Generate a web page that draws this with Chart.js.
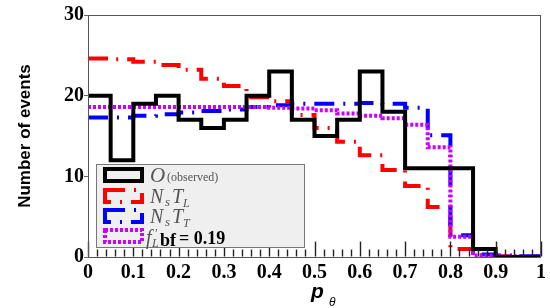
<!DOCTYPE html>
<html>
<head>
<meta charset="utf-8">
<script src="https://cdn.jsdelivr.net/npm/chart.js@4.4.0/dist/chart.umd.min.js"></script>
<style>
  html, body { margin: 0; padding: 0; background: #fff; }
  canvas { display: block; }
</style>
</head>
<body>
<canvas id="histChart" width="550" height="308"></canvas>
<script>
// bin edges of p_theta (20 bins of 0.05)
const binEdges = [0, 0.05, 0.1, 0.15, 0.2, 0.25, 0.3, 0.35, 0.4, 0.45, 0.5,
                  0.55, 0.6, 0.65, 0.7, 0.75, 0.8, 0.85, 0.9, 0.95, 1];

// O (observed)
const observed = [20, 12, 19, 20, 17, 16, 17, 20, 23, 17, 15, 17, 23, 18, 11, 11, 11, 1, 0, 0];
// Ns T_L
const nsTL = [24.6, 24.5, 24.2, 23.8, 23.2, 22.1, 21.2, 19.8, 19.3, 17.6, 16.0, 14.3, 12.6, 10.8, 8.8, 6.2, 1.0, 0.2, 0.1, 0.05];
// Ns T_T
const nsTT = [17.3, 17.3, 17.5, 17.7, 17.9, 18.1, 18.3, 18.6, 18.8, 19.0, 19.0, 19.0, 19.1, 19.0, 18.5, 15.1, 2.7, 0.3, 0.2, 0.1];
// f'_L bf = 0.19
const bestFit = [18.6, 18.6, 18.6, 18.6, 18.6, 18.6, 18.6, 18.6, 18.5, 18.4, 18.2, 17.8, 17.5, 17.2, 16.4, 13.6, 2.5, 0.2, 0.1, 0.05];

const xTicks = [0, 0.1, 0.2, 0.3, 0.4, 0.5, 0.6, 0.7, 0.8, 0.9, 1];
const yTicks = [0, 10, 20, 30];

// step histogram points: value held from left edge to the next edge
const toSteps = vals => binEdges.map((e, i) => ({ x: e, y: vals[Math.min(i, vals.length - 1)] }));

const tickFont = { family: 'Liberation Serif', weight: 'bold', size: 20 };

// inner x ticks (drawn before legend so the box covers them)
const innerTicks = {
  id: 'innerTicks',
  afterDatasetsDraw(chart) {
    const ctx = chart.ctx;
    const ca = chart.chartArea;
    ctx.save();
    ctx.setLineDash([]);
    ctx.lineWidth = 1.4;
    ctx.strokeStyle = '#222222';
    for (let k = 0; k <= 50; k++) {
      const px = Math.round(ca.left + (ca.right - ca.left) * k / 50) + 0.5;
      const len = (k % 5 === 0) ? 15 : 7;
      ctx.beginPath();
      ctx.moveTo(px, ca.bottom - 0.5);
      ctx.lineTo(px, ca.bottom - 0.5 - len);
      ctx.stroke();
    }
    ctx.restore();
  }
};

// frame, legend box and axis titles
const decorPlugin = {
  id: 'decor',
  afterDraw(chart) {
    const ctx = chart.ctx;
    const ca = chart.chartArea;
    const w = ca.right - ca.left;
    ctx.save();
    ctx.setLineDash([]);

    // frame
    ctx.strokeStyle = '#555';
    ctx.lineWidth = 1;
    ctx.strokeRect(ca.left + 0.5, ca.top + 0.5, w - 1, ca.bottom - ca.top);

    // legend box
    const bx = ca.left + 8, by = ca.bottom - 93, bw = 208, bh = 83;
    ctx.fillStyle = '#efefef';
    ctx.fillRect(bx, by, bw, bh);
    ctx.strokeStyle = '#777';
    ctx.strokeRect(bx + 0.5, by + 0.5, bw, bh);

    const items = [
      { color: '#000000', dash: [], w: 4 },
      { color: '#ff0000', dash: [20, 9, 2, 9], w: 4 },
      { color: '#0000ff', dash: [20, 9, 2, 9], w: 4 },
      { color: '#cc00ff', dash: [3, 2], w: 4 }
    ];
    const rowTop = [by + 5, by + 26, by + 46, by + 66];
    items.forEach((it, i) => {
      ctx.strokeStyle = it.color;
      ctx.lineWidth = it.w;
      ctx.setLineDash(it.dash);
      ctx.strokeRect(bx + 9, rowTop[i], 37, 12);
    });
    ctx.setLineDash([]);

    const tx = bx + 54;
    ctx.fillStyle = '#555';
    ctx.textAlign = 'left';
    ctx.textBaseline = 'alphabetic';
    // O (observed)
    ctx.font = 'italic 21px "Liberation Serif"';
    ctx.fillText('O', tx, rowTop[0] + 13);
    ctx.font = '12px "Liberation Serif"';
    ctx.fillText('(observed)', tx + 17, rowTop[0] + 12);
    // Ns T_L, Ns T_T
    ['L', 'T'].forEach((sub, j) => {
      const base = rowTop[1 + j] + 13;
      ctx.font = 'italic 20px "Liberation Serif"';
      ctx.fillText('N', tx, base);
      ctx.font = 'italic 13px "Liberation Serif"';
      ctx.fillText('s', tx + 15, base + 3);
      ctx.font = 'italic 20px "Liberation Serif"';
      ctx.fillText('T', tx + 22, base);
      ctx.font = 'italic 12px "Liberation Serif"';
      ctx.fillText(sub, tx + 33, base + 4);
    });
    // f'_L bf = 0.19
    const b4 = rowTop[3] + 14;
    ctx.font = 'italic 20px "Liberation Serif"';
    ctx.fillText('f', tx - 4, b4);
    ctx.font = '13px "Liberation Serif"';
    ctx.fillText('\u2032', tx + 5, b4 - 7);
    ctx.font = 'italic 12px "Liberation Serif"';
    ctx.fillText('L', tx + 2, b4 + 3);
    ctx.fillStyle = '#000';
    ctx.font = 'bold 18px "Liberation Serif"';
    ctx.fillText('bf', tx + 10, b4 + 2);
    ctx.fillText('= 0.19', tx + 29, b4);

    // axis titles
    ctx.fillStyle = '#000';
    ctx.save();
    ctx.translate(25, 136);
    ctx.rotate(-Math.PI / 2);
    ctx.textAlign = 'center';
    ctx.textBaseline = 'middle';
    ctx.font = 'bold 17px "Liberation Sans"';
    ctx.fillText('Number of events', 0, 0);
    ctx.restore();

    ctx.textAlign = 'left';
    ctx.font = 'bold italic 21px "Liberation Sans"';
    ctx.fillText('p', 311, 298);
    ctx.font = 'italic 12px "Liberation Sans"';
    ctx.fillText('\u03b8', 329, 306);

    ctx.restore();
  }
};

new Chart(document.getElementById('histChart'), {
  type: 'line',
  data: {
    datasets: [
      { label: 'O (observed)', data: toSteps(observed), borderColor: '#000000', borderWidth: 4, stepped: true, pointRadius: 0, fill: false },
      { label: 'f\'L bf = 0.19', data: toSteps(bestFit), borderColor: '#cc00ff', borderWidth: 4, borderDash: [3, 2], stepped: true, pointRadius: 0, fill: false },
      { label: 'NsTT', data: toSteps(nsTT), borderColor: '#0000ff', borderWidth: 4, borderDash: [20, 9, 2, 9], stepped: true, pointRadius: 0, fill: false },
      { label: 'NsTL', data: toSteps(nsTL), borderColor: '#ff0000', borderWidth: 4, borderDash: [20, 9, 2, 9], stepped: true, pointRadius: 0, fill: false }
    ]
  },
  options: {
    responsive: false,
    animation: false,
    devicePixelRatio: 1,
    layout: { padding: { top: 15, right: 8, left: 0, bottom: 0 } },
    plugins: { legend: { display: false }, tooltip: { enabled: false } },
    scales: {
      x: {
        type: 'linear',
        min: 0,
        max: 1,
        afterFit: s => { s.height = 51; },
        afterBuildTicks: s => { s.ticks = xTicks.map(v => ({ value: v })); },
        grid: { display: false, drawTicks: false },
        border: { display: false },
        ticks: {
          color: '#000',
          font: tickFont,
          padding: 4,
          maxRotation: 0,
          autoSkip: false,
          callback: v => (v === 0 ? '0' : v === 1 ? '1' : v.toFixed(1))
        }
      },
      y: {
        min: 0,
        max: 30,
        afterFit: s => { s.width = 88; },
        afterBuildTicks: s => { s.ticks = yTicks.map(v => ({ value: v })); },
        grid: { drawOnChartArea: false, tickLength: 4, color: '#666' },
        border: { display: false },
        ticks: { color: '#000', font: tickFont, padding: 0 }
      }
    }
  },
  plugins: [innerTicks, decorPlugin]
});
</script>
</body>
</html>
